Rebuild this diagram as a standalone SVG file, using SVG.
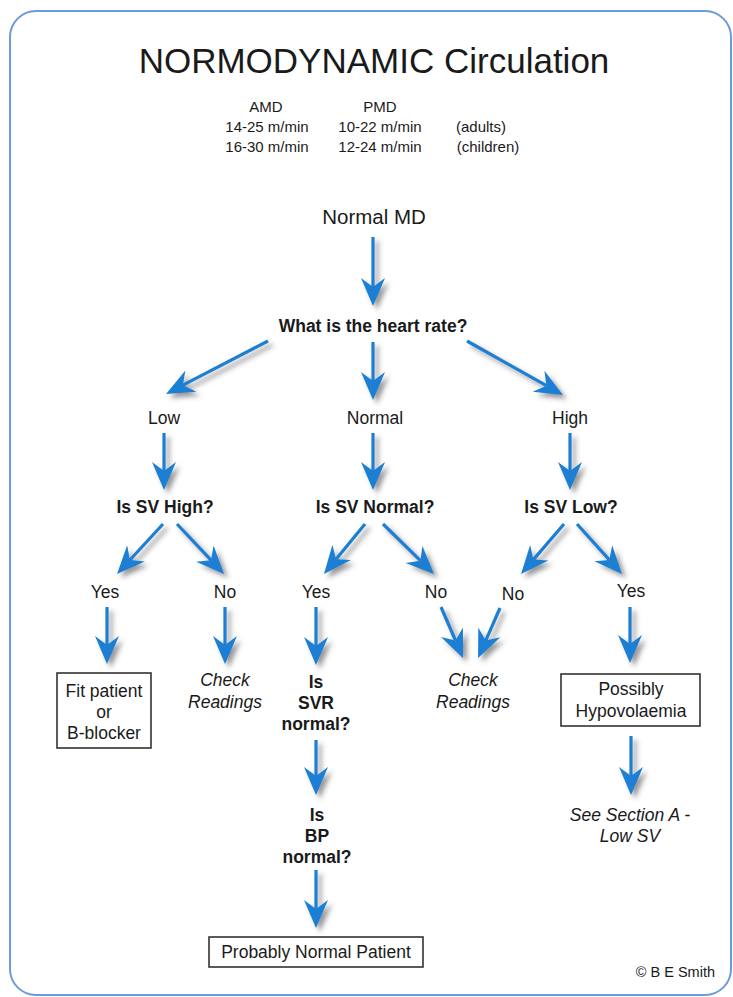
<svg xmlns="http://www.w3.org/2000/svg" width="733" height="997" viewBox="0 0 733 997">
  <style>
    text { font-family: "Liberation Sans", Arial, sans-serif; fill: #1a1a1a; text-anchor: middle; }
    .title { font-size: 35px; }
    .sub { font-size: 15px; }
    .lbl { font-size: 17.5px; }
    .q { font-size: 17.5px; font-weight: bold; }
    .it { font-size: 17.5px; font-style: italic; }
    .box { fill: #ffffff; stroke: #333333; stroke-width: 1.6; }
    .arrow { fill: none; stroke: #1b7fd3; stroke-width: 3.2; marker-end: url(#head); }
  </style>
  <defs>
    <marker id="head" markerUnits="userSpaceOnUse" viewBox="0 0 30 26" markerWidth="30" markerHeight="26" refX="9" refY="13" orient="auto">
      <path d="M0,1 L28,13 L0,25 L9,13 Z" fill="#1b7fd3"/>
    </marker>
    <filter id="shadow" x="-20%" y="-20%" width="150%" height="150%">
      <feDropShadow dx="4" dy="4" stdDeviation="2.5" flood-color="#444444" flood-opacity="0.55"/>
    </filter>
  </defs>

  <!-- page frame -->
  <rect x="10" y="11" width="721" height="984" rx="26" ry="26" fill="#ffffff" stroke="#6b9bd8" stroke-width="2"/>

  <!-- heading -->
  <g id="title">
    <text class="title" x="374" y="73">NORMODYNAMIC Circulation</text>
  </g>
  <g id="rates">
    <text class="sub" x="266" y="112">AMD</text>
    <text class="sub" x="380" y="112">PMD</text>
    <text class="sub" x="267" y="132">14-25 m/min</text>
    <text class="sub" x="380" y="132">10-22 m/min</text>
    <text class="sub" x="481" y="132">(adults)</text>
    <text class="sub" x="267" y="152">16-30 m/min</text>
    <text class="sub" x="380" y="152">12-24 m/min</text>
    <text class="sub" x="488" y="152">(children)</text>
  </g>

  <!-- connectors -->
  <g id="connectors" filter="url(#shadow)">
    <path class="arrow" d="M373,237 L373,287"/>
    <path class="arrow" d="M268,341 L182.9,385.2"/>
    <path class="arrow" d="M373,342 L373,381"/>
    <path class="arrow" d="M467,341 L546.4,385.7"/>
    <path class="arrow" d="M164,433 L164,471"/>
    <path class="arrow" d="M373,433 L373,471"/>
    <path class="arrow" d="M570,433 L570,471"/>
    <path class="arrow" d="M163,524 L129.9,560"/>
    <path class="arrow" d="M177,524 L211,560.2"/>
    <path class="arrow" d="M365,524 L336,559.3"/>
    <path class="arrow" d="M383,524 L420.4,560.7"/>
    <path class="arrow" d="M564,524 L533.4,559.6"/>
    <path class="arrow" d="M577,524 L609.3,559.9"/>
    <path class="arrow" d="M107,607 L107,645"/>
    <path class="arrow" d="M225,607 L225,645"/>
    <path class="arrow" d="M316,607 L316,646"/>
    <path class="arrow" d="M441,607 L455.5,640.5"/>
    <path class="arrow" d="M500,608 L485.7,640.6"/>
    <path class="arrow" d="M630,607 L630,644"/>
    <path class="arrow" d="M316,740 L316,776"/>
    <path class="arrow" d="M316,870 L316,909"/>
    <path class="arrow" d="M631,736 L631,776"/>
  </g>

  <!-- nodes -->
  <g id="normal-md"><text class="lbl" x="374" y="224" style="font-size:20.5px">Normal MD</text></g>
  <g id="heart-rate"><text class="q" x="373" y="332">What is the heart rate?</text></g>

  <g id="hr-low"><text class="lbl" x="164" y="424">Low</text></g>
  <g id="hr-normal"><text class="lbl" x="375" y="424">Normal</text></g>
  <g id="hr-high"><text class="lbl" x="570" y="424">High</text></g>

  <g id="sv-high"><text class="q" x="165" y="513">Is SV High?</text></g>
  <g id="sv-normal"><text class="q" x="375" y="513">Is SV Normal?</text></g>
  <g id="sv-low"><text class="q" x="571" y="513">Is SV Low?</text></g>

  <g id="high-yes"><text class="lbl" x="105" y="598">Yes</text></g>
  <g id="high-no"><text class="lbl" x="225" y="598">No</text></g>
  <g id="normal-yes"><text class="lbl" x="316" y="598">Yes</text></g>
  <g id="normal-no"><text class="lbl" x="436" y="598">No</text></g>
  <g id="low-no"><text class="lbl" x="513" y="600">No</text></g>
  <g id="low-yes"><text class="lbl" x="631" y="597">Yes</text></g>

  <g id="fit-patient">
    <rect class="box" x="57" y="673" width="94" height="75"/>
    <text class="lbl" x="104" y="697">Fit patient</text>
    <text class="lbl" x="104" y="718">or</text>
    <text class="lbl" x="104" y="739">B-blocker</text>
  </g>
  <g id="check-left">
    <text class="it" x="225" y="686">Check</text>
    <text class="it" x="225" y="708">Readings</text>
  </g>
  <g id="svr-normal">
    <text class="q" x="316" y="688">Is</text>
    <text class="q" x="316" y="709">SVR</text>
    <text class="q" x="316" y="730">normal?</text>
  </g>
  <g id="check-middle">
    <text class="it" x="473" y="686">Check</text>
    <text class="it" x="473" y="708">Readings</text>
  </g>
  <g id="hypovolaemia">
    <rect class="box" x="561" y="674" width="139" height="52"/>
    <text class="lbl" x="631" y="695">Possibly</text>
    <text class="lbl" x="631" y="717">Hypovolaemia</text>
  </g>
  <g id="bp-normal">
    <text class="q" x="317" y="821">Is</text>
    <text class="q" x="317" y="842">BP</text>
    <text class="q" x="317" y="863">normal?</text>
  </g>
  <g id="section-a">
    <text class="it" x="630" y="821">See Section A -</text>
    <text class="it" x="630" y="842">Low SV</text>
  </g>
  <g id="normal-patient">
    <rect class="box" x="209" y="937" width="214" height="30"/>
    <text class="lbl" x="316" y="958">Probably Normal Patient</text>
  </g>

  <g id="credit">
    <text x="715" y="977" style="font-size:14.5px;text-anchor:end">© B E Smith</text>
  </g>
</svg>
